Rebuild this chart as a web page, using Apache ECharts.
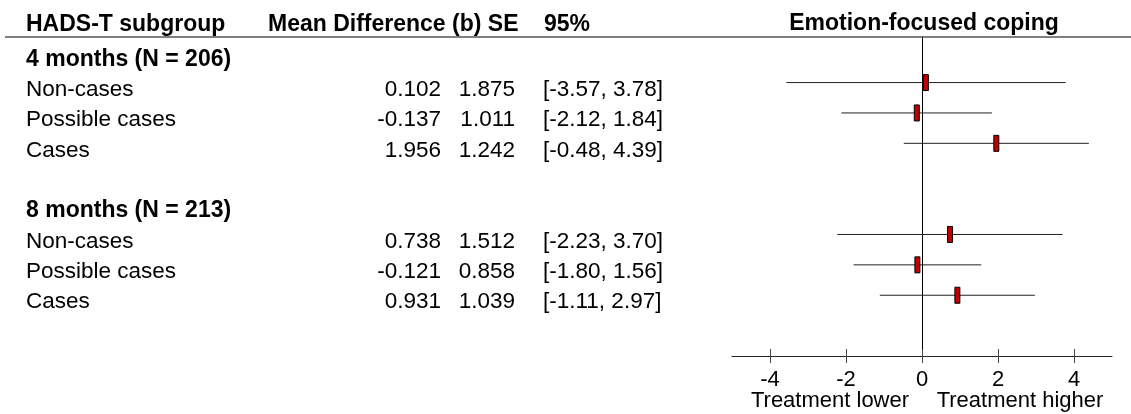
<!DOCTYPE html>
<html>
<head>
<meta charset="utf-8">
<script src="https://cdn.jsdelivr.net/npm/echarts@6/dist/echarts.min.js"></script>
<style>
  html, body { margin: 0; padding: 0; background: #fff; }
  #main { width: 1131px; height: 414px; }
</style>
</head>
<body>
<div id="main"></div>
<script>
// rows: 0 = 4 months header, 1-3 subgroups, 5 = 8 months header, 6-8 subgroups
const groupLabels = ['4 months (N = 206)', '8 months (N = 213)'];
const groupRows = [0, 5];
const subgroupLabels = ['Non-cases', 'Possible cases', 'Cases'];
const subgroupRows = [[1, 2, 3], [6, 7, 8]];

const meanDiff = [[0.102, -0.137, 1.956], [0.738, -0.121, 0.931]];
const stdErr = [[1.875, 1.011, 1.242], [1.512, 0.858, 1.039]];
const ciLower = [[-3.57, -2.12, -0.48], [-2.23, -1.80, -1.11]];
const ciUpper = [[3.78, 1.84, 4.39], [3.70, 1.56, 2.97]];

const xTicks = [-4, -2, 0, 2, 4];

const FONT = '"Liberation Sans", Arial, sans-serif';

// build row tables for the series
const forestData = [];
const tableData = [];
groupLabels.forEach((g, gi) => {
  tableData.push({ value: [0, groupRows[gi]], kind: 'group', label: g });
  subgroupLabels.forEach((s, si) => {
    const row = subgroupRows[gi][si];
    forestData.push([meanDiff[gi][si], ciLower[gi][si], ciUpper[gi][si], row]);
    tableData.push({
      value: [0, row],
      kind: 'row',
      label: s,
      mean: meanDiff[gi][si].toFixed(3),
      se: stdErr[gi][si].toFixed(3),
      ci: '[' + ciLower[gi][si].toFixed(2) + ', ' + ciUpper[gi][si].toFixed(2) + ']',
    });
  });
});

const chart = echarts.init(document.getElementById('main'), null, { renderer: 'canvas' });

function txt(x, y, text, align, bold) {
  return {
    type: 'text',
    style: {
      x: x,
      y: y,
      text: text,
      fill: '#000',
      font: (bold ? 'bold 23px ' : '22.5px ') + FONT,
      textAlign: align,
      textVerticalAlign: 'middle',
    },
  };
}

const option = {
  animation: false,
  grid: { left: 732, right: 19, top: 37, bottom: 58 },
  xAxis: [
    {
      type: 'value',
      min: -5,
      max: 5,
      position: 'bottom',
      axisLine: { show: true, onZero: false, lineStyle: { color: '#222', width: 1 } },
      axisTick: { show: true, length: 7, customValues: xTicks, lineStyle: { color: '#444' } },
      axisLabel: {
        show: true,
        customValues: xTicks,
        margin: 13,
        color: '#000',
        fontSize: 22,
        fontFamily: FONT,
      },
      splitLine: { show: false },
    },
    {
      type: 'value',
      min: -5,
      max: 5,
      position: 'bottom',
      axisLine: { show: false, onZero: false },
      axisTick: { show: true, inside: true, length: 7, customValues: xTicks, lineStyle: { color: '#444' } },
      axisLabel: { show: false },
      splitLine: { show: false },
    },
  ],
  yAxis: {
    type: 'value',
    min: -0.5,
    max: 10,
    inverse: true,
    axisLine: { show: true, onZero: true, lineStyle: { color: '#000', width: 1 } },
    axisTick: { show: false },
    axisLabel: { show: false },
    splitLine: { show: false },
  },
  graphic: [
    {
      type: 'line',
      shape: { x1: 5, y1: 37, x2: 1131, y2: 37 },
      style: { stroke: '#555', lineWidth: 1.5 },
      z: 10,
    },
    txt(26, 25, 'HADS-T subgroup', 'left', true),
    txt(268, 25, 'Mean Difference (b) SE', 'left', true),
    txt(544, 25, '95%', 'left', true),
    txt(924, 24, 'Emotion-focused coping', 'center', true),
    {
      type: 'text',
      style: { x: 830, y: 401, text: 'Treatment lower', fill: '#000', font: '22px ' + FONT, textAlign: 'center', textVerticalAlign: 'middle' },
    },
    {
      type: 'text',
      style: { x: 1020, y: 401, text: 'Treatment higher', fill: '#000', font: '22px ' + FONT, textAlign: 'center', textVerticalAlign: 'middle' },
    },
  ],
  series: [
    {
      // left-hand table text, rows placed on the y scale
      type: 'custom',
      clip: false,
      silent: true,
      data: tableData,
      encode: { x: 0, y: 1 },
      renderItem(params, api) {
        const item = tableData[params.dataIndex];
        const y = api.coord([0, api.value(1)])[1] + 7;
        if (item.kind === 'group') {
          return { type: 'group', children: [txt(26, y, item.label, 'left', true)] };
        }
        return {
          type: 'group',
          children: [
            txt(26, y, item.label, 'left', false),
            txt(441, y, item.mean, 'right', false),
            txt(515, y, item.se, 'right', false),
            txt(543, y, item.ci, 'left', false),
          ],
        };
      },
    },
    {
      // CI whiskers + point estimate boxes
      type: 'custom',
      clip: false,
      data: forestData,
      encode: { x: [0, 1, 2], y: 3 },
      z: 5,
      renderItem(params, api) {
        const row = api.value(3);
        const lo = api.coord([api.value(1), row]);
        const hi = api.coord([api.value(2), row]);
        const mid = api.coord([api.value(0), row]);
        return {
          type: 'group',
          children: [
            {
              type: 'line',
              shape: { x1: lo[0], y1: lo[1], x2: hi[0], y2: hi[1] },
              style: { stroke: '#222', lineWidth: 1 },
            },
            {
              type: 'rect',
              shape: { x: mid[0] - 2.5, y: mid[1] - 8, width: 5, height: 16 },
              style: { fill: '#c00000', stroke: '#000', lineWidth: 1 },
              z2: 2,
            },
          ],
        };
      },
    },
  ],
};

chart.setOption(option);
</script>
</body>
</html>
